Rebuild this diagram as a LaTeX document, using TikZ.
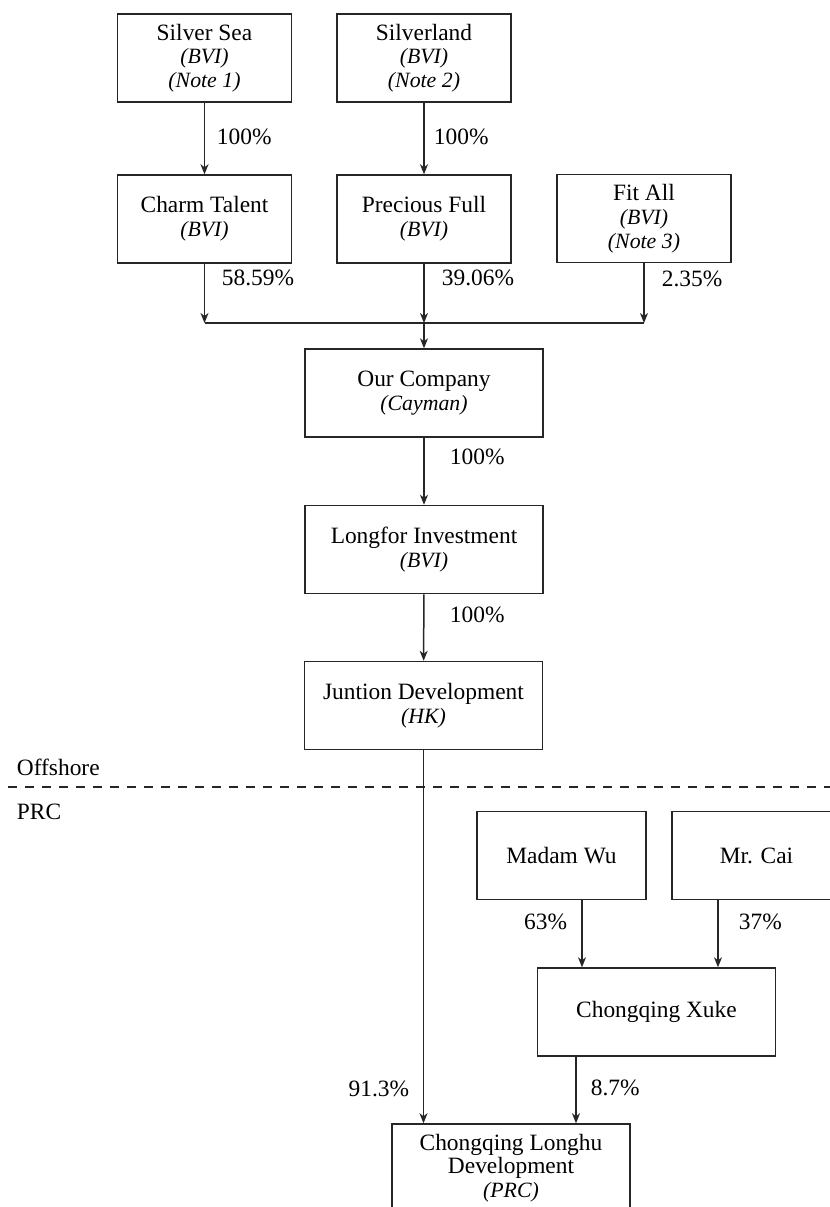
\documentclass[tikz,border=0pt]{standalone}
\usepackage{fontspec}
\setmainfont{Liberation Serif}
\usepackage{tikz}
\usetikzlibrary{arrows.meta}

\newcommand{\regn}[1]{{\fontsize{10.9pt}{11.9pt}\selectfont\itshape(#1)}}

\begin{document}
\begin{tikzpicture}[x=0.5pt,y=0.5pt,yscale=-1,xscale=1,
  font=\fontsize{11.7pt}{11.9pt}\selectfont,
  entity/.style={draw=black!85, line width=0.75pt, align=center, inner sep=0pt, minimum height=44pt},
  narrowbox/.style={entity, minimum width=87pt},
  widebox/.style={entity, minimum width=119pt},
  personbox/.style={entity, minimum width=84.5pt},
  pct/.style={inner sep=0.75pt},
  plain/.style={draw=black!85, line width=0.75pt},
  link/.style={plain, -{Stealth[length=5pt,width=4pt,inset=1.5pt]}}]
\useasboundingbox (0,0) rectangle (830,1207);
\clip (0,0) rectangle (830,1207);

% Box Node
\node (ss) [narrowbox] at (204.5,58) {Silver Sea\\ \regn{BVI}\\ \regn{Note 1}};
% Box Node
\node (sl) [narrowbox] at (424,58) {Silverland\\ \regn{BVI}\\ \regn{Note 2}};
% Box Node
\node (ct) [narrowbox] at (204.5,219) {Charm Talent\\ \regn{BVI}};
% Box Node
\node (pf) [narrowbox] at (424,219) {Precious Full\\ \regn{BVI}};
% Box Node
\node (fa) [narrowbox] at (644,218.5) {Fit All\\ \regn{BVI}\\ \regn{Note 3}};
% Box Node
\node (oc) [widebox] at (424,393) {Our Company\\ \regn{Cayman}};
% Box Node
\node (li) [widebox] at (424,549.5) {Longfor Investment\\ \regn{BVI}};
% Box Node
\node (jd) [widebox] at (423.5,705.5) {Juntion Development\\ \regn{HK}};
% Box Node
\node (mw) [personbox] at (561.5,855.5) {Madam Wu};
% Box Node
\node (mc) [personbox] at (756.5,855.5) {Mr. Cai};
% Box Node
\node (cx) [widebox] at (656.5,1012) {Chongqing Xuke};
% Box Node
\node (cl) [widebox] at (511,1168) {Chongqing Longhu\\ Development\\ \regn{PRC}};

% Text Node
\node (p1) [pct, anchor=west] at (215,137) {100\%};
% Text Node
\node (p2) [pct, anchor=west] at (432,137) {100\%};
% Text Node
\node (p3) [pct, anchor=west] at (220,278) {58.59\%};
% Text Node
\node (p4) [pct, anchor=west] at (440,278) {39.06\%};
% Text Node
\node (p5) [pct, anchor=west] at (660,279) {2.35\%};
% Text Node
\node (p6) [pct, anchor=west] at (448,457) {100\%};
% Text Node
\node (p7) [pct, anchor=west] at (448,615) {100\%};
% Text Node
\node (p8) [pct, anchor=east] at (411,1089) {91.3\%};
% Text Node
\node (p9) [pct, anchor=east] at (569,922) {63\%};
% Text Node
\node (p10) [pct, anchor=west] at (737,922) {37\%};
% Text Node
\node (p11) [pct, anchor=west] at (589,1088) {8.7\%};
% Text Node
\node (offshore) [pct, anchor=west] at (15,767) {Offshore};
% Text Node
\node (prc) [pct, anchor=west] at (15,812) {PRC};

\coordinate (bus) at (0,323);
\coordinate (wuX) at (582,0);
\coordinate (caiX) at (718,0);
\coordinate (xukeX) at (576,0);
\coordinate (shoreL) at (8,787);
\coordinate (shoreR) at (830,787);

% Connection
\draw [link] (ss) -- (ct);
% Connection
\draw [link] (sl) -- (pf);
% Connection
\draw [link] (ct) -- (ct |- bus);
% Connection
\draw [link] (pf) -- (pf |- bus);
% Connection
\draw [link] (fa) -- (fa |- bus);
% Connection
\draw [plain] (ct |- bus) -- (fa |- bus);
% Connection
\draw [link] (pf |- bus) -- (oc);
% Connection
\draw [link] (oc) -- (li);
% Connection
\draw [link] (li) -- (jd);
% Connection
\draw [link] (jd.south) -- (jd.south |- cl.north);
% Connection
\draw [link] (mw.south -| wuX) -- (cx.north -| wuX);
% Connection
\draw [link] (mc.south -| caiX) -- (cx.north -| caiX);
% Connection
\draw [link] (cx.south -| xukeX) -- (cl.north -| xukeX);
% Connection
\draw [plain, dash pattern={on 4.5pt off 4pt}] (shoreL) -- (shoreR);

\end{tikzpicture}
\end{document}
